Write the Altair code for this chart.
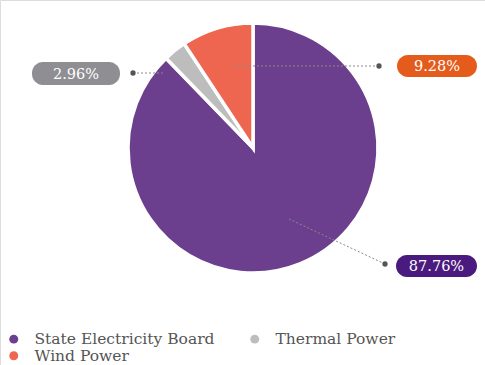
import altair as alt
import pandas as pd

categories = ["State Electricity Board", "Thermal Power", "Wind Power"]
values = [87.76, 2.96, 9.28]
slice_colors = ["#6B3E8E", "#BDBDBD", "#EE6650"]
badge_colors = ["#4A1A7E", "#8E8E93", "#E55B1B"]
legend_order = ["State Electricity Board", "Wind Power", "Thermal Power"]

df = pd.DataFrame({"category": categories, "value": values, "order": [0, 1, 2]})

CX, CY, R = 253, 148, 125
FONT = "DejaVu Serif"

pie = alt.Chart(df).mark_arc(outerRadius=R, stroke="white", strokeWidth=3.5).encode(
    theta=alt.Theta("value:Q", stack=True),
    order=alt.Order("order:Q"),
    color=alt.Color(
        "category:N",
        scale=alt.Scale(domain=categories, range=slice_colors),
        legend=alt.Legend(
            title=None,
            orient="none",
            legendX=6,
            legendY=331,
            columns=2,
            values=legend_order,
            symbolType="circle",
            symbolSize=80,
            symbolStrokeWidth=0,
            labelFont=FONT,
            labelFontSize=15.5,
            labelColor="#555555",
            labelOffset=13,
            labelLimit=0,
            columnPadding=32,
            rowPadding=0,
        ),
    ),
    x=alt.value(CX),
    y=alt.value(CY),
)

# annotation layout (pixel positions of dot, line end and badge per slice)
layout = {
    "State Electricity Board": dict(dot=(385, 264), end=(287, 218), box=(396, 255, 477, 277)),
    "Thermal Power": dict(dot=(133, 73), end=(165, 73), box=(32, 62, 120, 85)),
    "Wind Power": dict(dot=(379, 66), end=(233, 66), box=(397, 55, 477, 77)),
}

layers = [pie]
for cat, val, bcol in zip(categories, values, badge_colors):
    lay = layout[cat]
    sub = df[df.category == cat]
    base = alt.Chart(sub)
    line = base.mark_rule(color="#8a8a8a", strokeDash=[2, 2], strokeWidth=1).encode(
        x=alt.value(lay["dot"][0]), x2=alt.value(lay["end"][0]),
        y=alt.value(lay["dot"][1]), y2=alt.value(lay["end"][1]),
    )
    dot = base.mark_circle(color="#555555", opacity=1, size=28).encode(
        x=alt.value(lay["dot"][0]), y=alt.value(lay["dot"][1])
    )
    x1, y1, x2, y2 = lay["box"]
    box = base.mark_rect(color=bcol, cornerRadius=11).encode(
        x=alt.value(x1), x2=alt.value(x2), y=alt.value(y1), y2=alt.value(y2)
    )
    txt = base.transform_calculate(lbl="format(datum.value, '.2f') + '%'").mark_text(
        color="white", font=FONT, fontSize=14.5, align="center", baseline="middle"
    ).encode(
        text="lbl:N", x=alt.value((x1 + x2) / 2), y=alt.value((y1 + y2) / 2 + 1)
    )
    layers += [line, dot, box, txt]

chart = alt.layer(*layers).properties(
    width=485, height=365, padding=0, autosize=alt.AutoSizeParams(type="none")
).configure_view(stroke=None).configure(background="white")

chart.save("out.html", embed_options={"renderer": "svg", "actions": False})
